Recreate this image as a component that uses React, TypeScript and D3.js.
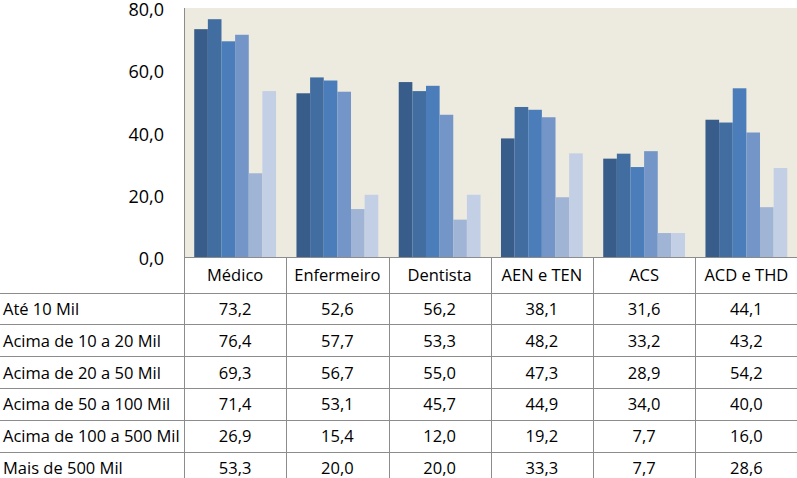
import React from 'react';
import * as d3 from 'd3';

// categories (professions) and series (municipality size)
const categories = ['Médico', 'Enfermeiro', 'Dentista', 'AEN e TEN', 'ACS', 'ACD e THD'];
const seriesNames = [
  'Até 10 Mil',
  'Acima de 10 a 20 Mil',
  'Acima de 20 a 50 Mil',
  'Acima de 50 a 100 Mil',
  'Acima de 100 a 500 Mil',
  'Mais de 500 Mil',
];
const ate10 = [73.2, 52.6, 56.2, 38.1, 31.6, 44.1];
const de10a20 = [76.4, 57.7, 53.3, 48.2, 33.2, 43.2];
const de20a50 = [69.3, 56.7, 55.0, 47.3, 28.9, 54.2];
const de50a100 = [71.4, 53.1, 45.7, 44.9, 34.0, 40.0];
const de100a500 = [26.9, 15.4, 12.0, 19.2, 7.7, 16.0];
const mais500 = [53.3, 20.0, 20.0, 33.3, 7.7, 28.6];
const yTicks = [0, 20, 40, 60, 80];

const seriesValues = [ate10, de10a20, de20a50, de50a100, de100a500, mais500];
const colors = ['#385D8A', '#426DA0', '#4A7DB9', '#7395C7', '#A0B4D6', '#C3CFE4'];

const W = 797;
const H = 478;
const plotLeft = 184;
const plotRight = 797.5;
const plotTop = 8;
const plotBottom = 257;
const headerBottom = 292.5;
const rowH = 31.8;
const fmt = (v: number) => v.toFixed(1).replace('.', ',');
const font = '"Open Sans", sans-serif';

export default function App() {
  const x = d3.scaleBand<string>().domain(categories).range([plotLeft, plotRight]).paddingInner(0);
  const y = d3.scaleLinear().domain([0, 80]).range([plotBottom, plotTop]);
  const gap = x.bandwidth() * (1.5 / 7.5);
  const inner = d3
    .scaleBand<number>()
    .domain(d3.range(seriesNames.length))
    .range([gap / 2, x.bandwidth() - gap / 2]);

  const lineColor = '#8C8C8C';

  return (
    <svg
      width={W}
      height={H}
      style={{ position: 'absolute', left: 0, top: 0, display: 'block', background: '#fff' }}
      fontFamily={font}
    >
      <rect x={plotLeft} y={plotTop} width={plotRight - plotLeft} height={plotBottom - plotTop} fill="#EDEBE0" />
      {seriesValues.map((vals, si) =>
        vals.map((v, ci) => (
          <rect
            key={`${si}-${ci}`}
            x={(x(categories[ci]) ?? 0) + (inner(si) ?? 0)}
            y={y(v)}
            width={inner.bandwidth()}
            height={y(0) - y(v)}
            fill={colors[si]}
          />
        ))
      )}
      {/* y axis */}
      <line x1={plotLeft + 0.5} x2={plotLeft + 0.5} y1={plotTop} y2={H} stroke={lineColor} strokeWidth={1} />
      {yTicks.map((t) => (
        <text key={t} x={164} y={y(t) + 1} textAnchor="end" dominantBaseline="central" fontSize={18} fill="#000">
          {fmt(t)}
        </text>
      ))}
      {/* data table */}
      <line x1={plotLeft} x2={W} y1={plotBottom + 0.5} y2={plotBottom + 0.5} stroke={lineColor} />
      {categories.map((c, i) => (
        <g key={c}>
          {i > 0 && (
            <line
              x1={Math.round(x(c) ?? 0) + 0.5}
              x2={Math.round(x(c) ?? 0) + 0.5}
              y1={plotBottom}
              y2={H}
              stroke={lineColor}
            />
          )}
          <text
            x={(x(c) ?? 0) + x.bandwidth() / 2}
            y={(plotBottom + headerBottom) / 2}
            textAnchor="middle"
            dominantBaseline="central"
            fontSize={16.5}
          >
            {c}
          </text>
        </g>
      ))}
      {seriesNames.map((s, si) => {
        const top = headerBottom + si * rowH;
        return (
          <g key={s}>
            <line x1={0} x2={W} y1={Math.round(top) + 0.5} y2={Math.round(top) + 0.5} stroke={lineColor} />
            <text x={3} y={top + rowH / 2} dominantBaseline="central" fontSize={16.5}>
              {s}
            </text>
            {seriesValues[si].map((v, ci) => (
              <text
                key={ci}
                x={(x(categories[ci]) ?? 0) + x.bandwidth() / 2}
                y={top + rowH / 2}
                textAnchor="middle"
                dominantBaseline="central"
                fontSize={16.5}
              >
                {fmt(v)}
              </text>
            ))}
          </g>
        );
      })}
    </svg>
  );
}
